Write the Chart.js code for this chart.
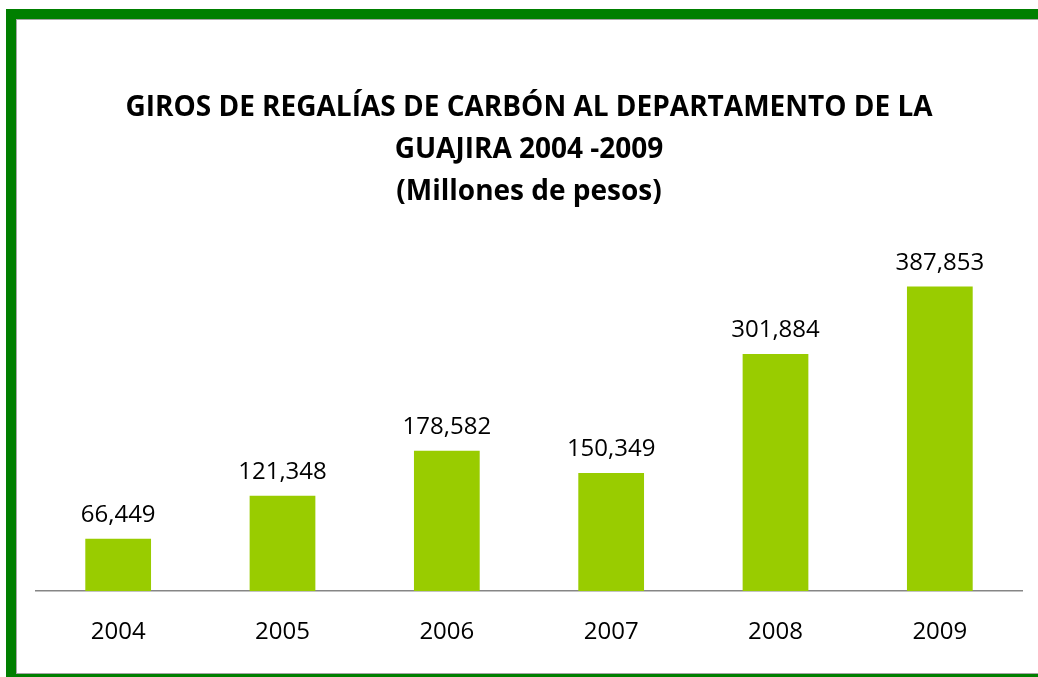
<!DOCTYPE html>
<html>
<head>
<meta charset="utf-8">
<script src="https://cdn.jsdelivr.net/npm/chart.js@4/dist/chart.umd.min.js"></script>
<style>
  html, body { margin: 0; padding: 0; background: #fff; overflow: hidden; }
  body { width: 1038px; height: 677px; position: relative; }
  #frame {
    position: absolute; left: 6px; top: 9px; width: 1200px; height: 655px;
    border-left: 10px solid #007F00; border-top: 10px solid #007F00; border-bottom: 10px solid #007F00;
  }
  #inner { position: absolute; left: 0; top: 0; right: 0; bottom: 0; border: 1px solid #A6A6A6; }
  #chart { position: absolute; left: 0; top: 0; }
</style>
</head>
<body>
<div id="frame"><div id="inner"></div></div>
<canvas id="chart" width="1038" height="677"></canvas>
<script>
(function(){
  const years = ["2004", "2005", "2006", "2007", "2008", "2009"];
  const giros = [66449, 121348, 178582, 150349, 301884, 387853];
  const titleLines = [
    "GIROS DE REGALÍAS DE CARBÓN AL DEPARTAMENTO DE LA",
    "GUAJIRA 2004 -2009",
    "(Millones de pesos)"
  ];

  const fontFamily = "'Open Sans', 'Noto Sans', sans-serif";
  const fmt = v => v.toLocaleString("en-US");

  // value labels above each bar
  const barLabels = {
    id: "barLabels",
    afterDatasetsDraw(chart){
      const c = chart.ctx;
      const meta = chart.getDatasetMeta(0);
      c.save();
      c.font = `24px ${fontFamily}`;
      c.fillStyle = "#000";
      c.textAlign = "center";
      c.textBaseline = "alphabetic";
      meta.data.forEach((bar, i) => {
        c.fillText(fmt(giros[i]), bar.x, bar.y - 17);
      });
      c.restore();
    }
  };

  new Chart(document.getElementById("chart"), {
    type: "bar",
    data: {
      labels: years,
      datasets: [{
        data: giros,
        backgroundColor: "#99CC00",
        categoryPercentage: 1,
        barPercentage: 0.4
      }]
    },
    options: {
      responsive: false,
      animation: false,
      layout: { padding: { left: 36, right: 16, top: 0, bottom: 0 } },
      scales: {
        x: {
          grid: { display: false, drawTicks: false },
          border: { display: true, color: "#868686", width: 1.5 },
          ticks: { color: "#000", padding: 27, font: { family: fontFamily, size: 24 } },
          afterFit: s => { s.height = 86; }
        },
        y: { display: false, min: 0, max: 400000 }
      },
      plugins: {
        legend: { display: false },
        tooltip: { enabled: false },
        title: {
          display: true,
          text: titleLines,
          color: "#000",
          font: { family: fontFamily, size: 28, weight: "bold", lineHeight: "42px" },
          padding: { top: 87, bottom: 64 }
        }
      }
    },
    plugins: [barLabels]
  });
})();
</script>
</body>
</html>
